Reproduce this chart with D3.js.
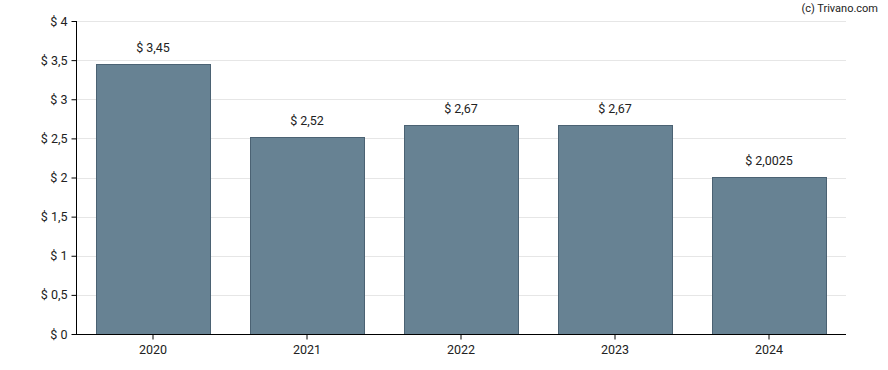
<!DOCTYPE html>
<html>
<head>
<meta charset="utf-8">
<script src="https://cdn.jsdelivr.net/npm/d3@7"></script>
<style>
  body { margin: 0; background: #fff; }
  text { font-family: Roboto, "Noto Sans", sans-serif; fill: #222; }
</style>
</head>
<body>
<script>
var w = 888,
  h = 370;

var years = ['2020', '2021', '2022', '2023', '2024'];
var values = [3.45, 2.52, 2.67, 2.67, 2.0025];
var labels = ['$ 3,45', '$ 2,52', '$ 2,67', '$ 2,67', '$ 2,0025'];
var yTicks = [0, 0.5, 1, 1.5, 2, 2.5, 3, 3.5, 4];

var margin = { top: 21, right: 42, bottom: 36, left: 76 };

var svg = d3.select('body').append('svg')
  .attr('width', w)
  .attr('height', h)

var x = d3.scaleBand()
  .domain(years)
  .range([margin.left, w - margin.right])
  .paddingInner(0.26)
  .paddingOuter(0.13);

var y = d3.scaleLinear()
  .domain([0, 4])
  .range([h - margin.bottom, margin.top]);

// grid
svg.append('g')
  .selectAll('line')
  .data(yTicks)
  .enter()
  .append('line')
  .attr('x1', margin.left)
  .attr('x2', w - margin.right)
  .attr('y1', function (d) { return Math.round(y(d)) + 0.5; })
  .attr('y2', function (d) { return Math.round(y(d)) + 0.5; })
  .attr('stroke', '#e6e6e6')
  .attr('stroke-width', 1);

// bars
svg.append('g')
  .selectAll('rect')
  .data(values)
  .enter()
  .append('rect')
  .attr('x', function (d, i) { return Math.round(x(years[i])) + 0.5; })
  .attr('y', function (d) { return Math.round(y(d)) + 0.5; })
  .attr('width', Math.round(x.bandwidth()))
  .attr('height', function (d) { return Math.round(y(0)) - Math.round(y(d)); })
  .attr('fill', '#678293')
  .attr('stroke', '#4b6273')
  .attr('stroke-width', 1);

// value labels
svg.append('g')
  .selectAll('text')
  .data(values)
  .enter()
  .append('text')
  .attr('x', function (d, i) { return x(years[i]) + x.bandwidth() / 2; })
  .attr('y', function (d) { return y(d) - 12; })
  .attr('text-anchor', 'middle')
  .attr('font-size', 12.5)
  .text(function (d, i) { return labels[i]; });

// y axis
var yAxis = d3.axisLeft(y)
  .tickValues(yTicks)
  .tickSize(5)
  .tickPadding(4)
  .tickFormat(function (d) { return '$ ' + String(d).replace('.', ','); });

var gy = svg.append('g')
  .attr('transform', 'translate(' + (margin.left + 0.5) + ',0)')
  .call(yAxis);
gy.select('.domain').attr('stroke', '#000').attr('d', 'M-0,' + y(4) + 'V' + (y(0) + 0.5));
gy.selectAll('text').attr('font-size', 12.5).attr('fill', '#222').style('font-family', 'Roboto, sans-serif');
gy.selectAll('line').attr('stroke', '#000');

// x axis
var xAxis = d3.axisBottom(x)
  .tickSize(5)
  .tickPadding(6);

var gx = svg.append('g')
  .attr('transform', 'translate(0,' + (Math.round(y(0)) + 0.5) + ')')
  .call(xAxis);
gx.select('.domain').attr('stroke', '#000').attr('d', 'M' + margin.left + ',0H' + (w - margin.right));
gx.selectAll('text').attr('font-size', 12.5).attr('fill', '#222').style('font-family', 'Roboto, sans-serif');
gx.selectAll('line').attr('stroke', '#000');

svg.append('text')
  .attr('x', w - 10)
  .attr('y', 12)
  .attr('text-anchor', 'end')
  .attr('font-size', 11)
  .text('(c) Trivano.com');
</script>
</body>
</html>
